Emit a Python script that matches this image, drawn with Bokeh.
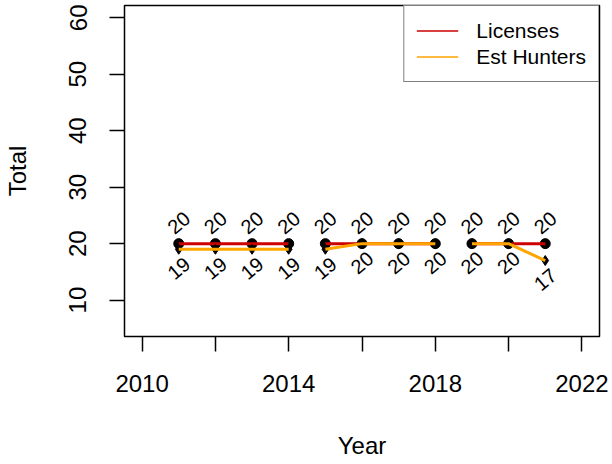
import numpy as np
from bokeh.plotting import figure
from bokeh.models import ColumnDataSource, FixedTicker, Legend, LegendItem, Range1d, Title
from bokeh.core.properties import value
from bokeh.embed import file_html
from bokeh.resources import INLINE

# ---- data ----
years = [2011, 2012, 2013, 2014, 2015, 2016, 2017, 2018, 2019, 2020, 2021]
licenses = [20, 20, 20, 20, 20, 20, 20, 20, 20, 20, 20]
hunters = [19, 19, 19, 19, 19, 20, 20, 20, 20, 20, 17]
period = [1, 1, 1, 1, 2, 2, 2, 2, 3, 3, 3]
x_ticks = [2010, 2012, 2014, 2016, 2018, 2020, 2022]
x_tick_labels = ["2010", "", "2014", "", "2018", "", "2022"]
y_ticks = [10, 20, 30, 40, 50, 60]
x_title = "Year"
y_title = "Total"

RED = "#CD0000"
ORANGE = "#FFA500"
FONT = "Liberation Sans"

W, H = 612, 464
LEFT, RIGHT, TOP, BOTTOM = 124, 13, 5, 128


def broken(xs, ys, groups):
    bx, by = [], []
    prev = None
    for x, y, g in zip(xs, ys, groups):
        if prev is not None and g != prev:
            bx.append(np.nan)
            by.append(np.nan)
        bx.append(x)
        by.append(y)
        prev = g
    return bx, by


p = figure(width=W, height=H, output_backend="svg", toolbar_location=None,
           x_range=Range1d(2009.52, 2022.48), y_range=Range1d(3.55, 62.18),
           min_border_left=LEFT, min_border_right=RIGHT, min_border_top=TOP,
           min_border_bottom=BOTTOM, margin=(0, 0, 0, 0))
p.xgrid.visible = False
p.ygrid.visible = False
p.outline_line_color = "black"
p.outline_line_width = 1.5
p.outline_line_alpha = 1.0
p.background_fill_color = "white"
p.border_fill_color = "white"

for ax in (p.xaxis[0], p.yaxis[0]):
    ax.axis_line_color = None
    ax.major_tick_line_color = "black"
    ax.major_tick_line_width = 1.5
    ax.major_tick_out = 15
    ax.major_tick_in = 0
    ax.minor_tick_line_color = None
    ax.major_label_text_font = FONT
    ax.major_label_text_font_size = "24px"
    ax.major_label_text_color = "black"

p.xaxis.ticker = FixedTicker(ticks=x_ticks)
p.xaxis.major_label_overrides = {t: lab for t, lab in zip(x_ticks, x_tick_labels)}
p.xaxis.major_label_standoff = 23

p.yaxis.ticker = FixedTicker(ticks=y_ticks)
p.yaxis.major_label_orientation = "vertical"
p.yaxis.major_label_standoff = 23

# spacing between tick labels and axis titles (empty side titles)
p.add_layout(Title(text=" ", text_font_size="2px", standoff=32), "left")
p.add_layout(Title(text=" ", text_font_size="2px", standoff=31), "below")
# axis titles as side titles (outside the axes)
p.add_layout(Title(text=y_title, align="center", text_font=FONT, text_font_size="24px",
                   text_font_style="normal", text_color="black", standoff=0), "left")
p.add_layout(Title(text=x_title, align="center", text_font=FONT, text_font_size="24px",
                   text_font_style="normal", text_color="black", standoff=0), "below")

# licenses
lx, ly = broken(years, licenses, period)
p.scatter(years, licenses, marker="circle", size=10, color="black")
p.line(lx, ly, line_color=RED, line_width=3)
# hunters
hx, hy = broken(years, hunters, period)
p.scatter(years, hunters, marker="diamond", size=10, color="black")
p.line(hx, hy, line_color=ORANGE, line_width=3)

# value labels
src_l = ColumnDataSource(dict(x=years, y=licenses, t=[str(v) for v in licenses]))
src_h = ColumnDataSource(dict(x=years, y=hunters, t=[str(v) for v in hunters]))
p.text("x", "y", "t", source=src_l, angle=40, angle_units="deg", y_offset=-21,
       text_align="center", text_baseline="middle", text_font=value(FONT),
       text_font_size="20px", text_color="black")
p.text("x", "y", "t", source=src_h, angle=40, angle_units="deg", y_offset=19,
       text_align="center", text_baseline="middle", text_font=value(FONT),
       text_font_size="20px", text_color="black")

# legend (thin sample lines, drawn from off-screen copies of the series)
d1 = p.line([years[0], years[1]], [-100, -100], line_color=RED, line_width=1.5)
d2 = p.line([years[0], years[1]], [-100, -100], line_color=ORANGE, line_width=1.5)
legend = Legend(items=[LegendItem(label="Licenses", renderers=[d1]),
                       LegendItem(label="Est Hunters", renderers=[d2])],
                location="top_right", margin=0, padding=12, spacing=1,
                glyph_width=42, glyph_height=25, label_height=25,
                label_standoff=18, label_text_font=FONT,
                label_text_font_size="21px", label_text_color="black",
                border_line_color="black", border_line_width=1.5,
                background_fill_color="white", background_fill_alpha=1.0)
p.add_layout(legend, "center")

open("out.html", "w").write(file_html(p, INLINE))
